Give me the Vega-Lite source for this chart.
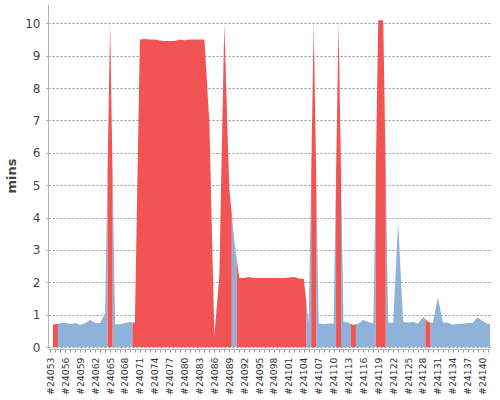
{
  "$schema": "https://vega.github.io/schema/vega-lite/v6.json",
  "width": 442,
  "height": 343,
  "autosize": {"type": "none"},
  "padding": {"left": 48, "top": 4, "right": 10, "bottom": 53},
  "background": "white",
  "config": {
    "view": {"stroke": null},
    "font": "DejaVu Sans",
    "axisY": {
      "titleFontSize": 13, "titleFontWeight": "bold", "titleColor": "#444", "titlePadding": 6,
      "labelFontSize": 12, "labelColor": "#444", "labelPadding": 6,
      "tickSize": 2, "tickColor": "#999", "domainColor": "#b4b4b4",
      "grid": true, "gridColor": "#666", "gridDash": [2, 2], "gridWidth": 1, "gridOpacity": 0.7,
      "zindex": 1
    }
  },
  "data": {"values": [
    {"build": 24053, "minutes": 0.70, "result": "SUCCESS"},
    {"build": 24054, "minutes": 0.70, "result": "FAILURE"},
    {"build": 24055, "minutes": 0.74, "result": "SUCCESS"},
    {"build": 24056, "minutes": 0.74, "result": "SUCCESS"},
    {"build": 24057, "minutes": 0.71, "result": "SUCCESS"},
    {"build": 24058, "minutes": 0.74, "result": "SUCCESS"},
    {"build": 24059, "minutes": 0.68, "result": "SUCCESS"},
    {"build": 24060, "minutes": 0.74, "result": "SUCCESS"},
    {"build": 24061, "minutes": 0.84, "result": "SUCCESS"},
    {"build": 24062, "minutes": 0.74, "result": "SUCCESS"},
    {"build": 24063, "minutes": 0.74, "result": "SUCCESS"},
    {"build": 24064, "minutes": 1.05, "result": "SUCCESS"},
    {"build": 24065, "minutes": 10.0, "result": "FAILURE"},
    {"build": 24066, "minutes": 0.70, "result": "SUCCESS"},
    {"build": 24067, "minutes": 0.70, "result": "SUCCESS"},
    {"build": 24068, "minutes": 0.74, "result": "SUCCESS"},
    {"build": 24069, "minutes": 0.77, "result": "SUCCESS"},
    {"build": 24070, "minutes": 0.75, "result": "FAILURE"},
    {"build": 24071, "minutes": 9.50, "result": "FAILURE"},
    {"build": 24072, "minutes": 9.52, "result": "FAILURE"},
    {"build": 24073, "minutes": 9.50, "result": "FAILURE"},
    {"build": 24074, "minutes": 9.50, "result": "FAILURE"},
    {"build": 24075, "minutes": 9.47, "result": "FAILURE"},
    {"build": 24076, "minutes": 9.46, "result": "FAILURE"},
    {"build": 24077, "minutes": 9.46, "result": "FAILURE"},
    {"build": 24078, "minutes": 9.46, "result": "FAILURE"},
    {"build": 24079, "minutes": 9.50, "result": "FAILURE"},
    {"build": 24080, "minutes": 9.48, "result": "FAILURE"},
    {"build": 24081, "minutes": 9.50, "result": "FAILURE"},
    {"build": 24082, "minutes": 9.50, "result": "FAILURE"},
    {"build": 24083, "minutes": 9.50, "result": "FAILURE"},
    {"build": 24084, "minutes": 9.50, "result": "FAILURE"},
    {"build": 24085, "minutes": 6.90, "result": "FAILURE"},
    {"build": 24086, "minutes": 0.35, "result": "FAILURE"},
    {"build": 24087, "minutes": 2.20, "result": "FAILURE"},
    {"build": 24088, "minutes": 10.0, "result": "FAILURE"},
    {"build": 24089, "minutes": 4.90, "result": "FAILURE"},
    {"build": 24090, "minutes": 3.30, "result": "SUCCESS"},
    {"build": 24091, "minutes": 2.14, "result": "FAILURE"},
    {"build": 24092, "minutes": 2.13, "result": "FAILURE"},
    {"build": 24093, "minutes": 2.16, "result": "FAILURE"},
    {"build": 24094, "minutes": 2.13, "result": "FAILURE"},
    {"build": 24095, "minutes": 2.13, "result": "FAILURE"},
    {"build": 24096, "minutes": 2.13, "result": "FAILURE"},
    {"build": 24097, "minutes": 2.13, "result": "FAILURE"},
    {"build": 24098, "minutes": 2.13, "result": "FAILURE"},
    {"build": 24099, "minutes": 2.13, "result": "FAILURE"},
    {"build": 24100, "minutes": 2.13, "result": "FAILURE"},
    {"build": 24101, "minutes": 2.15, "result": "FAILURE"},
    {"build": 24102, "minutes": 2.16, "result": "FAILURE"},
    {"build": 24103, "minutes": 2.12, "result": "FAILURE"},
    {"build": 24104, "minutes": 2.10, "result": "FAILURE"},
    {"build": 24105, "minutes": 0.75, "result": "SUCCESS"},
    {"build": 24106, "minutes": 10.0, "result": "FAILURE"},
    {"build": 24107, "minutes": 0.73, "result": "SUCCESS"},
    {"build": 24108, "minutes": 0.70, "result": "SUCCESS"},
    {"build": 24109, "minutes": 0.73, "result": "SUCCESS"},
    {"build": 24110, "minutes": 0.73, "result": "SUCCESS"},
    {"build": 24111, "minutes": 10.0, "result": "FAILURE"},
    {"build": 24112, "minutes": 0.79, "result": "SUCCESS"},
    {"build": 24113, "minutes": 0.75, "result": "SUCCESS"},
    {"build": 24114, "minutes": 0.68, "result": "FAILURE"},
    {"build": 24115, "minutes": 0.72, "result": "SUCCESS"},
    {"build": 24116, "minutes": 0.84, "result": "SUCCESS"},
    {"build": 24117, "minutes": 0.77, "result": "SUCCESS"},
    {"build": 24118, "minutes": 0.73, "result": "SUCCESS"},
    {"build": 24119, "minutes": 10.1, "result": "FAILURE"},
    {"build": 24120, "minutes": 10.1, "result": "FAILURE"},
    {"build": 24121, "minutes": 0.75, "result": "SUCCESS"},
    {"build": 24122, "minutes": 0.75, "result": "SUCCESS"},
    {"build": 24123, "minutes": 3.85, "result": "SUCCESS"},
    {"build": 24124, "minutes": 0.78, "result": "SUCCESS"},
    {"build": 24125, "minutes": 0.75, "result": "SUCCESS"},
    {"build": 24126, "minutes": 0.78, "result": "SUCCESS"},
    {"build": 24127, "minutes": 0.72, "result": "SUCCESS"},
    {"build": 24128, "minutes": 0.93, "result": "SUCCESS"},
    {"build": 24129, "minutes": 0.78, "result": "FAILURE"},
    {"build": 24130, "minutes": 0.74, "result": "SUCCESS"},
    {"build": 24131, "minutes": 1.54, "result": "SUCCESS"},
    {"build": 24132, "minutes": 0.76, "result": "SUCCESS"},
    {"build": 24133, "minutes": 0.75, "result": "SUCCESS"},
    {"build": 24134, "minutes": 0.69, "result": "SUCCESS"},
    {"build": 24135, "minutes": 0.72, "result": "SUCCESS"},
    {"build": 24136, "minutes": 0.72, "result": "SUCCESS"},
    {"build": 24137, "minutes": 0.74, "result": "SUCCESS"},
    {"build": 24138, "minutes": 0.74, "result": "SUCCESS"},
    {"build": 24139, "minutes": 0.91, "result": "SUCCESS"},
    {"build": 24140, "minutes": 0.80, "result": "SUCCESS"},
    {"build": 24141, "minutes": 0.72, "result": "SUCCESS"}
  ]},
  "transform": [
    {"window": [{"op": "mean", "field": "minutes", "as": "left"}], "sort": [{"field": "build", "order": "ascending"}], "frame": [-1, 0]},
    {"window": [{"op": "mean", "field": "minutes", "as": "right"}], "sort": [{"field": "build", "order": "ascending"}], "frame": [0, 1]},
    {"bin": {"step": 1, "anchor": 0.5}, "field": "build", "as": ["x0", "x1"]},
    {"fold": ["x0", "build", "x1"], "as": ["xkey", "xpos"]},
    {"fold": ["left", "minutes", "right"], "as": ["ykey", "yval"]},
    {"filter": "(datum.xkey == 'x0' && datum.ykey == 'left' && datum.build > 24053) || (datum.xkey == 'build' && datum.ykey == 'minutes') || (datum.xkey == 'x1' && datum.ykey == 'right')"},
    {"pivot": "result", "value": "yval", "groupby": ["build", "xkey", "xpos"]}
  ],
  "encoding": {
    "x": {
      "field": "xpos", "type": "quantitative",
      "scale": {"domain": [24052.5, 24141.5], "nice": false, "zero": false},
      "axis": {
        "title": null, "tickCount": 89, "labelAngle": -90, "labelFontSize": 9.3, "labelColor": "#333",
        "labelExpr": "(datum.value - 24053) % 3 == 0 ? '#' + datum.value : ''",
        "labelOverlap": false, "labelBound": false, "labelFlush": false,
        "labelPadding": 5, "tickSize": 3, "tickColor": "#999", "domain": true,
        "domainColor": "#b4b4b4", "offset": 2, "grid": false
      }
    },
    "order": [{"field": "xpos", "type": "quantitative"}, {"field": "build", "type": "quantitative"}]
  },
  "layer": [
    {
      "mark": {"type": "area", "interpolate": "linear", "color": "#8EB2D9"},
      "encoding": {
        "y": {
          "field": "SUCCESS", "type": "quantitative", "stack": null,
          "scale": {"domain": [0, 10.6], "nice": false, "zero": true},
          "axis": {"title": "mins", "values": [1, 2, 3, 4, 5, 6, 7, 8, 9, 10, 0]}
        }
      }
    },
    {
      "mark": {"type": "area", "interpolate": "linear", "color": "#F25454"},
      "encoding": {
        "y": {
          "field": "FAILURE", "type": "quantitative", "stack": null,
          "scale": {"domain": [0, 10.6], "nice": false, "zero": true},
          "axis": {"title": "mins", "values": [1, 2, 3, 4, 5, 6, 7, 8, 9, 10, 0]}
        }
      }
    }
  ]
}
